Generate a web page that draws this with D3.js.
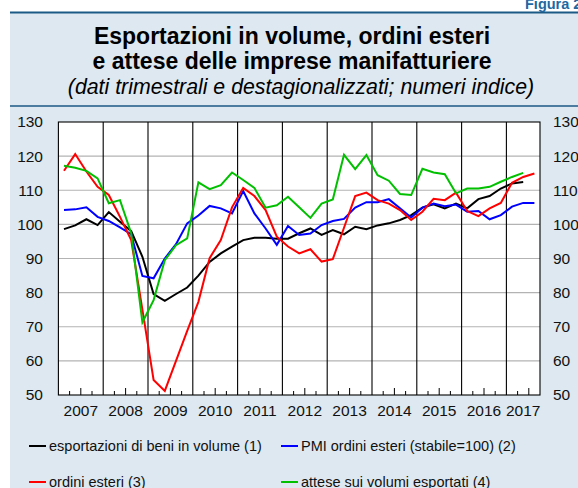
<!DOCTYPE html>
<html><head><meta charset="utf-8">
<script src="https://cdn.jsdelivr.net/npm/d3@7"></script>
<style>
html,body{margin:0;padding:0;background:#fff;}
svg{display:block;font-family:"Liberation Sans",Arial,Helvetica,sans-serif;}
</style></head>
<body>
<svg id="chart" width="578" height="488"></svg>
<script>
// ---- data (quarterly, 2007 Q1 – 2017 Q3) ----
const quarters = [
 "2007T1","2007T2","2007T3","2007T4","2008T1","2008T2","2008T3","2008T4",
 "2009T1","2009T2","2009T3","2009T4","2010T1","2010T2","2010T3","2010T4",
 "2011T1","2011T2","2011T3","2011T4","2012T1","2012T2","2012T3","2012T4",
 "2013T1","2013T2","2013T3","2013T4","2014T1","2014T2","2014T3","2014T4",
 "2015T1","2015T2","2015T3","2015T4","2016T1","2016T2","2016T3","2016T4",
 "2017T1","2017T2","2017T3"];
const yearLabels = ["2007","2008","2009","2010","2011","2012","2013","2014","2015","2016","2017"];
const yTicks = [50,60,70,80,90,100,110,120,130];

const esportazioni = [98.6,99.7,101.5,99.8,103.6,100.8,98.0,90.5,79.6,77.6,79.6,81.5,85.0,89.0,91.5,93.5,
 95.4,96.1,96.1,95.8,95.8,97.4,98.8,96.9,98.3,97.1,99.3,98.6,99.7,100.3,101.3,102.7,
 104.9,105.9,104.7,106.1,104.7,107.4,108.3,110.5,112.0,112.4,null];
const pmiOrdini = [104.2,104.4,105.0,102.2,101.0,99.1,97.1,84.9,84.2,90.0,94.2,100.3,102.6,105.4,104.7,103.2,
 109.8,103.2,98.8,94.0,99.5,96.9,97.3,99.8,101.0,101.6,104.9,106.5,106.5,107.4,104.7,102.0,
 104.9,106.1,105.3,105.8,103.7,103.9,101.5,102.7,105.2,106.3,106.3];
const ordiniEsteri = [115.7,120.6,115.5,111.0,108.6,102.2,95.4,75.0,54.4,51.2,60.0,68.8,77.3,90.1,95.4,105.0,
 110.7,108.3,104.2,96.4,93.5,91.5,92.7,89.1,89.8,99.0,108.3,109.3,107.1,106.1,104.2,101.3,
 103.7,107.5,107.1,109.3,103.9,102.4,104.7,106.3,112.2,113.9,114.9];
const atteseVolumi = [117.2,116.6,115.7,113.5,106.2,107.1,97.4,71.3,77.8,89.5,93.9,95.9,112.3,110.3,111.5,115.2,
 113.0,110.7,104.9,105.6,108.1,105.0,101.9,106.1,107.3,120.4,116.2,120.3,114.4,112.8,108.9,108.6,
 116.3,115.2,114.7,109.1,110.5,110.5,111.0,112.5,113.9,115.1,null];

const seriesNames = ["esportazioni di beni in volume (1)","PMI ordini esteri (stabile=100) (2)",
                     "ordini esteri (3)","attese sui volumi esportati (4)"];
const seriesColors = ["#000000","#0000ff","#ff0000","#00c000"];
const seriesValues = [esportazioni, pmiOrdini, ordiniEsteri, atteseVolumi];

// ---- drawing ----
const svg = d3.select("#chart");
const W = 578, H = 488;
const bg = "#dde8f0", dark = "#1b5a86";

svg.append("rect").attr("x",10).attr("y",12).attr("width",W-10).attr("height",H-12).attr("fill",bg);
svg.append("line").attr("x1",10).attr("x2",W).attr("y1",12.5).attr("y2",12.5)
   .attr("stroke",dark).attr("stroke-width",2);
svg.append("line").attr("x1",10).attr("x2",W).attr("y1",106).attr("y2",106)
   .attr("stroke",dark).attr("stroke-width",1.5);
svg.append("text").attr("x",525).attr("y",9).attr("font-size",14.5).attr("font-weight","bold")
   .attr("fill","#2268a0").text("Figura 2");

svg.append("text").attr("x",292).attr("y",44).attr("text-anchor","middle")
   .attr("font-size",23).attr("font-weight","bold").text("Esportazioni in volume, ordini esteri");
svg.append("text").attr("x",292).attr("y",69).attr("text-anchor","middle")
   .attr("font-size",23).attr("font-weight","bold").text("e attese delle imprese manifatturiere");
svg.append("text").attr("x",301).attr("y",94).attr("text-anchor","middle")
   .attr("font-size",21.3).attr("font-style","italic").text("(dati trimestrali e destagionalizzati; numeri indice)");

const L = 58.4, R = 540, T = 122, B = 395;
const x = d3.scaleLinear().domain([0, quarters.length]).range([L, R]);
const y = d3.scaleLinear().domain([50,130]).range([B, T]);

svg.append("rect").attr("x",L).attr("y",T).attr("width",R-L).attr("height",B-T).attr("fill","#fff");

// horizontal grid
svg.append("g").selectAll("line").data(yTicks.filter(v=>v>50 && v<130)).join("line")
  .attr("x1",L).attr("x2",R).attr("y1",d=>y(d)).attr("y2",d=>y(d))
  .attr("stroke","#b3b3b3").attr("stroke-width",1.2);

// year separators
const yearStarts = yearLabels.map((yl,k)=>k*4);
svg.append("g").selectAll("line").data(yearStarts.slice(1)).join("line")
  .attr("x1",d=>x(d)).attr("x2",d=>x(d)).attr("y1",T).attr("y2",B)
  .attr("stroke","#000").attr("stroke-width",1.1);

// quarter ticks
const qt = d3.range(1, quarters.length).filter(i=>i%4!==0);
svg.append("g").selectAll("line").data(qt).join("line")
  .attr("x1",d=>x(d)).attr("x2",d=>x(d)).attr("y1",B).attr("y2",d=> B-(d%4===2?7:4))
  .attr("stroke","#000").attr("stroke-width",1);

// frame
svg.append("rect").attr("x",L).attr("y",T).attr("width",R-L).attr("height",B-T)
  .attr("fill","none").attr("stroke","#000").attr("stroke-width",1.1);

// y axes (left & right)
const axL = d3.axisLeft(y).tickValues(yTicks).tickSize(0).tickPadding(0);
const gL = svg.append("g").attr("transform",`translate(43,0)`).call(axL);
const axR = d3.axisRight(y).tickValues(yTicks).tickSize(0).tickPadding(0);
const gR = svg.append("g").attr("transform",`translate(553,0)`).call(axR);
[gL,gR].forEach(g=>{
  g.select(".domain").remove();
  g.selectAll("text").attr("font-size",15.5).attr("fill","#111")
   .attr("font-family","Liberation Sans, Arial, sans-serif");
});

// year labels
svg.append("g").selectAll("text").data(yearLabels).join("text")
  .attr("x",(d,k)=>{const s=k*4, e=Math.min(s+4, quarters.length); return (x(s)+x(e))/2;})
  .attr("y",416).attr("text-anchor","middle").attr("font-size",15.5).attr("fill","#111").text(d=>d);

// series lines
const line = d3.line().defined(d=>d!=null).x((d,i)=>x(i+0.5)).y(d=>y(d));
seriesValues.forEach((vals,k)=>{
  svg.append("path").datum(vals).attr("d",line).attr("fill","none")
    .attr("stroke",seriesColors[k]).attr("stroke-width",2).attr("stroke-linejoin","miter");
});

// legend
const legPos = [[29,451],[281,451],[29,487],[281,487]];
seriesNames.forEach((n,k)=>{
  const [lx,ly] = legPos[k];
  svg.append("line").attr("x1",lx).attr("x2",lx+17).attr("y1",ly-5).attr("y2",ly-5)
    .attr("stroke",seriesColors[k]).attr("stroke-width",2);
  svg.append("text").attr("x",lx+20).attr("y",ly).attr("font-size",14.5).attr("fill","#111").text(n);
});
</script>
</body></html>
